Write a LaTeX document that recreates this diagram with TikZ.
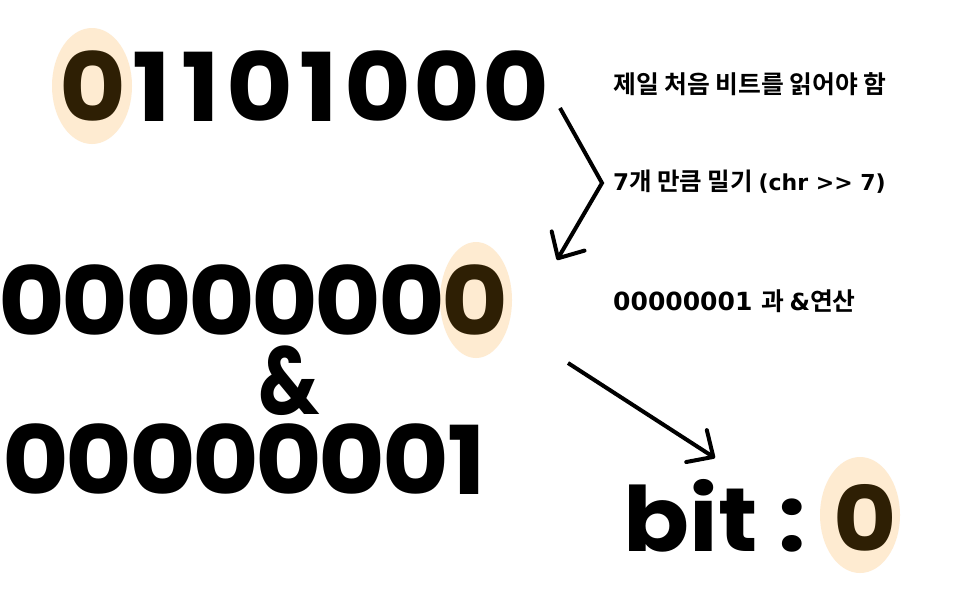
\documentclass[tikz,border=0pt]{standalone}
\usepackage{fontspec}
\usetikzlibrary{arrows.meta,shapes.geometric}
\newfontfamily\popb{Poppins}[UprightFont=* Bold]
\newfontfamily\popx{Poppins}[UprightFont=* Bold, FakeStretch=1.08]
\newfontfamily\kr{Noto Sans CJK KR}[UprightFont=* Bold]
\newfontfamily\djb{DejaVu Sans}[UprightFont=* Bold]
\definecolor{hlfill}{HTML}{FEEBD1}
\definecolor{hldigit}{HTML}{2E1F04}
\newcommand\dgbox[2]{\makebox[#1pt][c]{#2}}
\begin{document}
\begin{tikzpicture}[x=1pt,y=-1pt,
  big/.style={font=\popx\fontsize{95}{95}\selectfont, inner sep=0pt, anchor=base west},
  lbl/.style={inner sep=0pt, anchor=base west},
  hlbox/.style={ellipse, fill=hlfill, draw=none, inner sep=0pt},
  arr/.style={line width=4pt, -{Straight Barb[length=20pt,width=38pt,round]}}]
\useasboundingbox[fill=white] (0,0) rectangle (960,600);
% highlight ellipses
\node[hlbox, minimum width=80pt, minimum height=116pt] (e1) at (92,86) {};
\node[hlbox, minimum width=72pt, minimum height=116pt] (e2) at (476,300) {};
\node[hlbox, minimum width=80pt, minimum height=116pt] (e3) at (860,515) {};
% big digits
\node[big] (row1) at (58,121) {\dgbox{69}{\color{hldigit}0}\dgbox{49}{1}\dgbox{49}{1}\dgbox{69}{0}\dgbox{49}{1}\dgbox{69}{0}\dgbox{69}{0}\dgbox{69}{0}};
\node[big] (row2) at (0,335) {\dgbox{63.3}{0}\dgbox{63.3}{0}\dgbox{63.3}{0}\dgbox{63.3}{0}\dgbox{63.3}{0}\dgbox{63.3}{0}\dgbox{63.3}{0}\dgbox{63.3}{\color{hldigit}0}};
\node[big, anchor=base, font=\popb\fontsize{96}{96}\selectfont] (amp) at (289,414) {\scalebox{0.8}[1]{\&}};
\node[big] (row3) at (4,494) {\dgbox{63.3}{0}\dgbox{63.3}{0}\dgbox{63.3}{0}\dgbox{63.3}{0}\dgbox{63.3}{0}\dgbox{63.3}{0}\dgbox{63.3}{0}\dgbox{39}{1}};
\node[big, anchor=base, font=\popx\fontsize{90}{90}\selectfont] (bit) at (760,551) {bit : {\color{hldigit}0}};
% labels
\node[lbl, font=\kr\fontsize{24.8}{24.8}\selectfont] (t1) at (613,93) {제일 처음 비트를 읽어야 함};
\node[lbl, font=\fontsize{23}{23}\selectfont] (t2) at (613,190) {\djb 7\kr\fontsize{24.5}{24.5}\selectfont 개 만큼 밀기 \djb\fontsize{22}{22}\selectfont (chr >> 7)};
\node[lbl, font=\fontsize{25}{25}\selectfont] (t3) at (613,310) {\djb 00000001 \kr\fontsize{24.8}{24.8}\selectfont 과 \djb\fontsize{23.5}{23.5}\selectfont\&\kr\fontsize{24.8}{24.8}\selectfont 연산};
% arrows
\coordinate (a1s) at (560,108);
\coordinate (a1m) at (602,183);
\coordinate (a1e) at (557,260);
\draw[arr] (a1s) -- (a1m) -- (a1e);
\coordinate (a2s) at (568,363);
\coordinate (a2e) at (715,458);
\draw[arr] (a2s) -- (a2e);
\end{tikzpicture}
\end{document}
